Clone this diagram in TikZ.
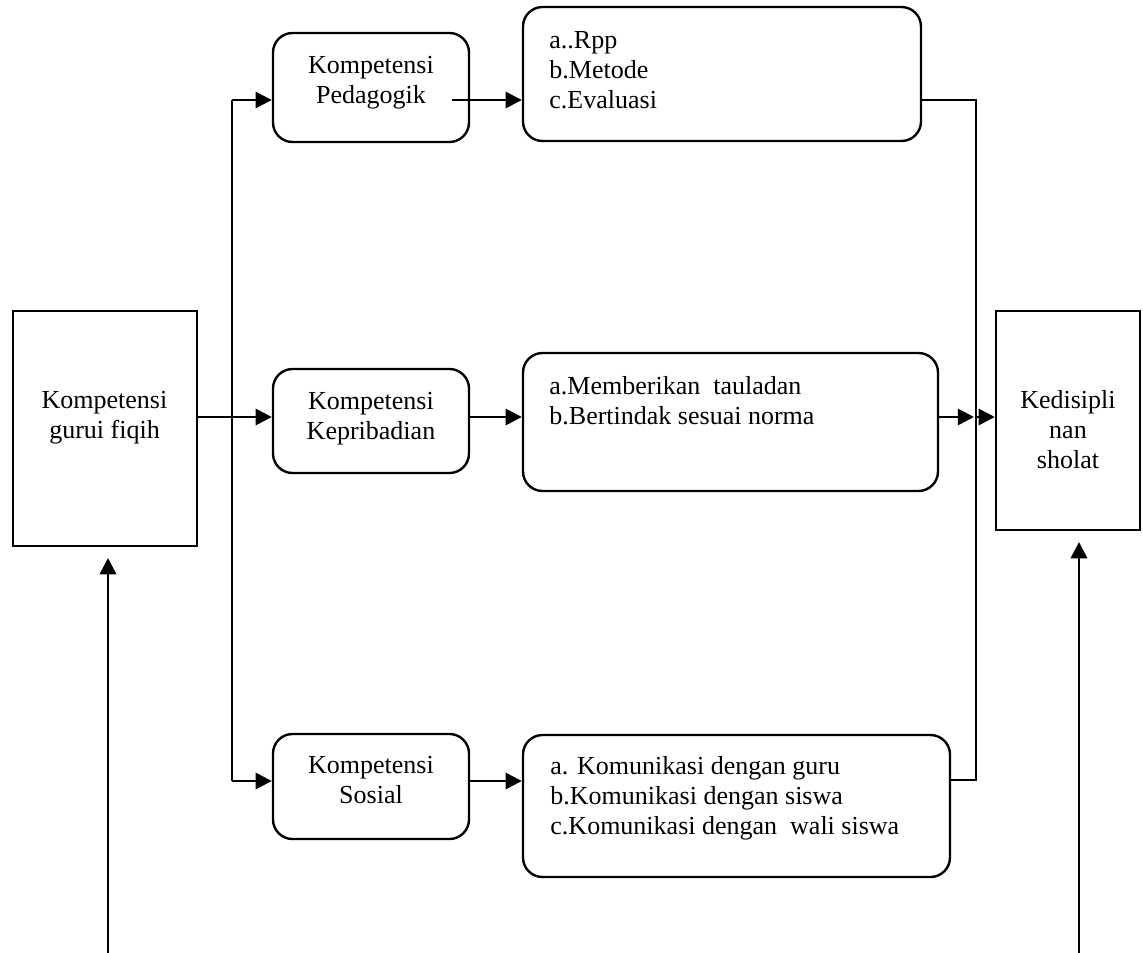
\documentclass[tikz,border=0pt]{standalone}
\usepackage{fontspec}
\setmainfont{Liberation Serif}
\usetikzlibrary{arrows.meta,calc}
\def\pxu{0.4615pt}
\tikzset{
  plainbox/.style={draw, line width=1.1pt, inner sep=0pt},
  roundbox/.style={draw, line width=1.1pt, rounded corners=9pt, inner sep=0pt},
  txt/.style={inner sep=0pt, font=\fontsize{12}{13.85}\selectfont},
  conn/.style={line width=1.1pt},
  arr/.style={line width=1.2pt, -{Triangle[length=7.5pt,width=7.5pt]}}
}
\begin{document}
\begin{tikzpicture}[x=0.4615pt,y=-0.4615pt]
\useasboundingbox (0,0) rectangle (1143,953);
% boxes
\node[plainbox, minimum width={184*\pxu}, minimum height={235*\pxu}] (gurui) at (105,428.5) {};
\node[roundbox, minimum width={196*\pxu}, minimum height={109*\pxu}] (ped) at (371,87.5) {};
\node[roundbox, minimum width={196*\pxu}, minimum height={104*\pxu}] (kep) at (371,421) {};
\node[roundbox, minimum width={196*\pxu}, minimum height={105*\pxu}] (sos) at (371,786.5) {};
\node[roundbox, minimum width={398*\pxu}, minimum height={134*\pxu}] (b1) at (722,74) {};
\node[roundbox, minimum width={415*\pxu}, minimum height={138*\pxu}] (b2) at (730.5,422) {};
\node[roundbox, minimum width={427*\pxu}, minimum height={142*\pxu}] (b3) at (736.5,806) {};
\node[plainbox, minimum width={144*\pxu}, minimum height={219*\pxu}] (ked) at (1068,420.5) {};
% texts
\node[txt, anchor=base] (tgurui) at (104.5,408) {\begin{tabular}[t]{@{}c@{}}Kompetensi\\gurui fiqih\end{tabular}};
\node[txt, anchor=base] (tped) at (371,73) {\begin{tabular}[t]{@{}c@{}}Kompetensi\\Pedagogik\end{tabular}};
\node[txt, anchor=base] (tkep) at (371,409) {\begin{tabular}[t]{@{}c@{}}Kompetensi\\Kepribadian\end{tabular}};
\node[txt, anchor=base] (tsos) at (371,773) {\begin{tabular}[t]{@{}c@{}}Kompetensi\\Sosial\end{tabular}};
\node[txt, anchor=base west] (tb1) at (549,48) {\begin{tabular}[t]{@{}l@{}}a..Rpp\\b.Metode\\c.Evaluasi\end{tabular}};
\node[txt, anchor=base west] (tb2) at (549,394) {\begin{tabular}[t]{@{}l@{}}a.Memberikan\ \ tauladan\\b.Bertindak sesuai norma\end{tabular}};
\node[txt, anchor=base west] (tb3) at (550,774) {\begin{tabular}[t]{@{}l@{}}a. Komunikasi dengan guru\\b.Komunikasi dengan siswa\\c.Komunikasi dengan\ \ wali siswa\end{tabular}};
\node[txt, anchor=base] (tked) at (1068,408) {\begin{tabular}[t]{@{}c@{}}Kedisipli\\nan\\sholat\end{tabular}};
% junction coordinates
\coordinate (jt) at (232,100);
\coordinate (jb) at (232,781);
\coordinate (jm) at (232,417);
\coordinate (pa) at (452,100);
\coordinate (rt) at (976,100);
\coordinate (rm) at (976,417);
\coordinate (rb) at (976,780);
\coordinate (lb) at (108,953);
\coordinate (lt) at (108,558);
\coordinate (rbb) at (1079,953);
\coordinate (rbt) at (1079,542);
% connectors left
\draw[conn] (jt) -- (jb);
\draw[arr] (jt) -- (ped.west |- jt);
\draw[arr] (jb) -- (sos.west |- jb);
\draw[arr] (gurui.east |- jm) -- (kep.west |- jm);
% middle arrows
\draw[arr] (pa) -- (b1.west |- pa);
\draw[arr] (kep.east |- jm) -- (b2.west |- jm);
\draw[arr] (sos.east |- jb) -- (b3.west |- jb);
% right bracket
\draw[conn] (b1.east |- rt) -- (rt) -- (rb) -- (b3.east |- rb);
\draw[arr] (b2.east |- rm) -- ($(rm)+(-2,0)$);
\draw[arr] (rm) -- (ked.west |- rm);
% bottom arrows
\draw[arr] (lb) -- (lt);
\draw[arr] (rbb) -- (rbt);
\end{tikzpicture}
\end{document}
